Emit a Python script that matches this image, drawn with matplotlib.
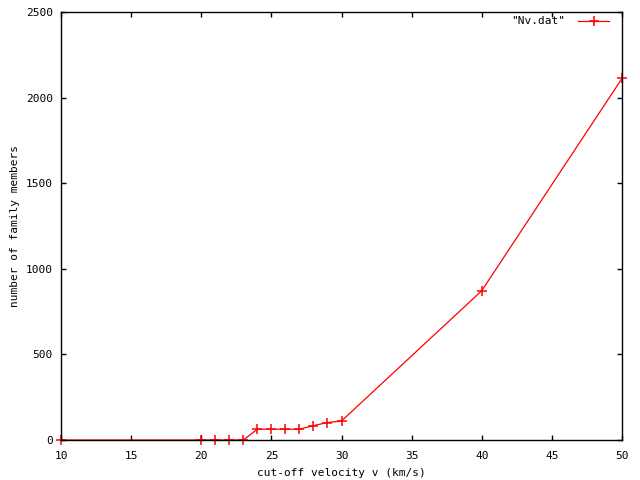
import matplotlib
matplotlib.use("Agg")
import matplotlib.pyplot as plt

v = [10, 20, 21, 22, 23, 24, 25, 26, 27, 28, 29, 30, 40, 50]
n = [0, 0, 0, 0, 0, 63, 63, 63, 63, 84, 102, 111, 872, 2112]

plt.rcParams['font.family'] = ['DejaVu Sans Mono']
plt.rcParams['font.size'] = 8

fig = plt.figure(figsize=(6.4, 4.8), dpi=100)
ax = fig.add_axes([61/640, 40/480, (622-61)/640, (440-12)/480])
ax.plot(v, n, color='red', lw=0.9, marker='+', markersize=6.5, mew=1.1, label='"Nv.dat"', clip_on=False)
ax.set_xlim(10, 50)
ax.set_ylim(0, 2500)
ax.set_xticks(range(10, 51, 5))
ax.set_yticks(range(0, 2501, 500))
ax.tick_params(direction='in', top=True, right=True, length=3.5, width=1, labelsize=8)
ax.tick_params(axis='x', pad=8)
ax.tick_params(axis='y', pad=6)
for s in ax.spines.values():
    s.set_linewidth(1)
ax.set_xlabel('cut-off velocity v (km/s)', labelpad=5)
ax.set_ylabel('number of family members', labelpad=4)
ax.legend(loc='upper right', frameon=False, markerfirst=False, handlelength=2.8,
          borderaxespad=0.2, handletextpad=1.2, borderpad=0.2, bbox_to_anchor=(0.985, 1.0))
fig.savefig('out.png', dpi=100)
